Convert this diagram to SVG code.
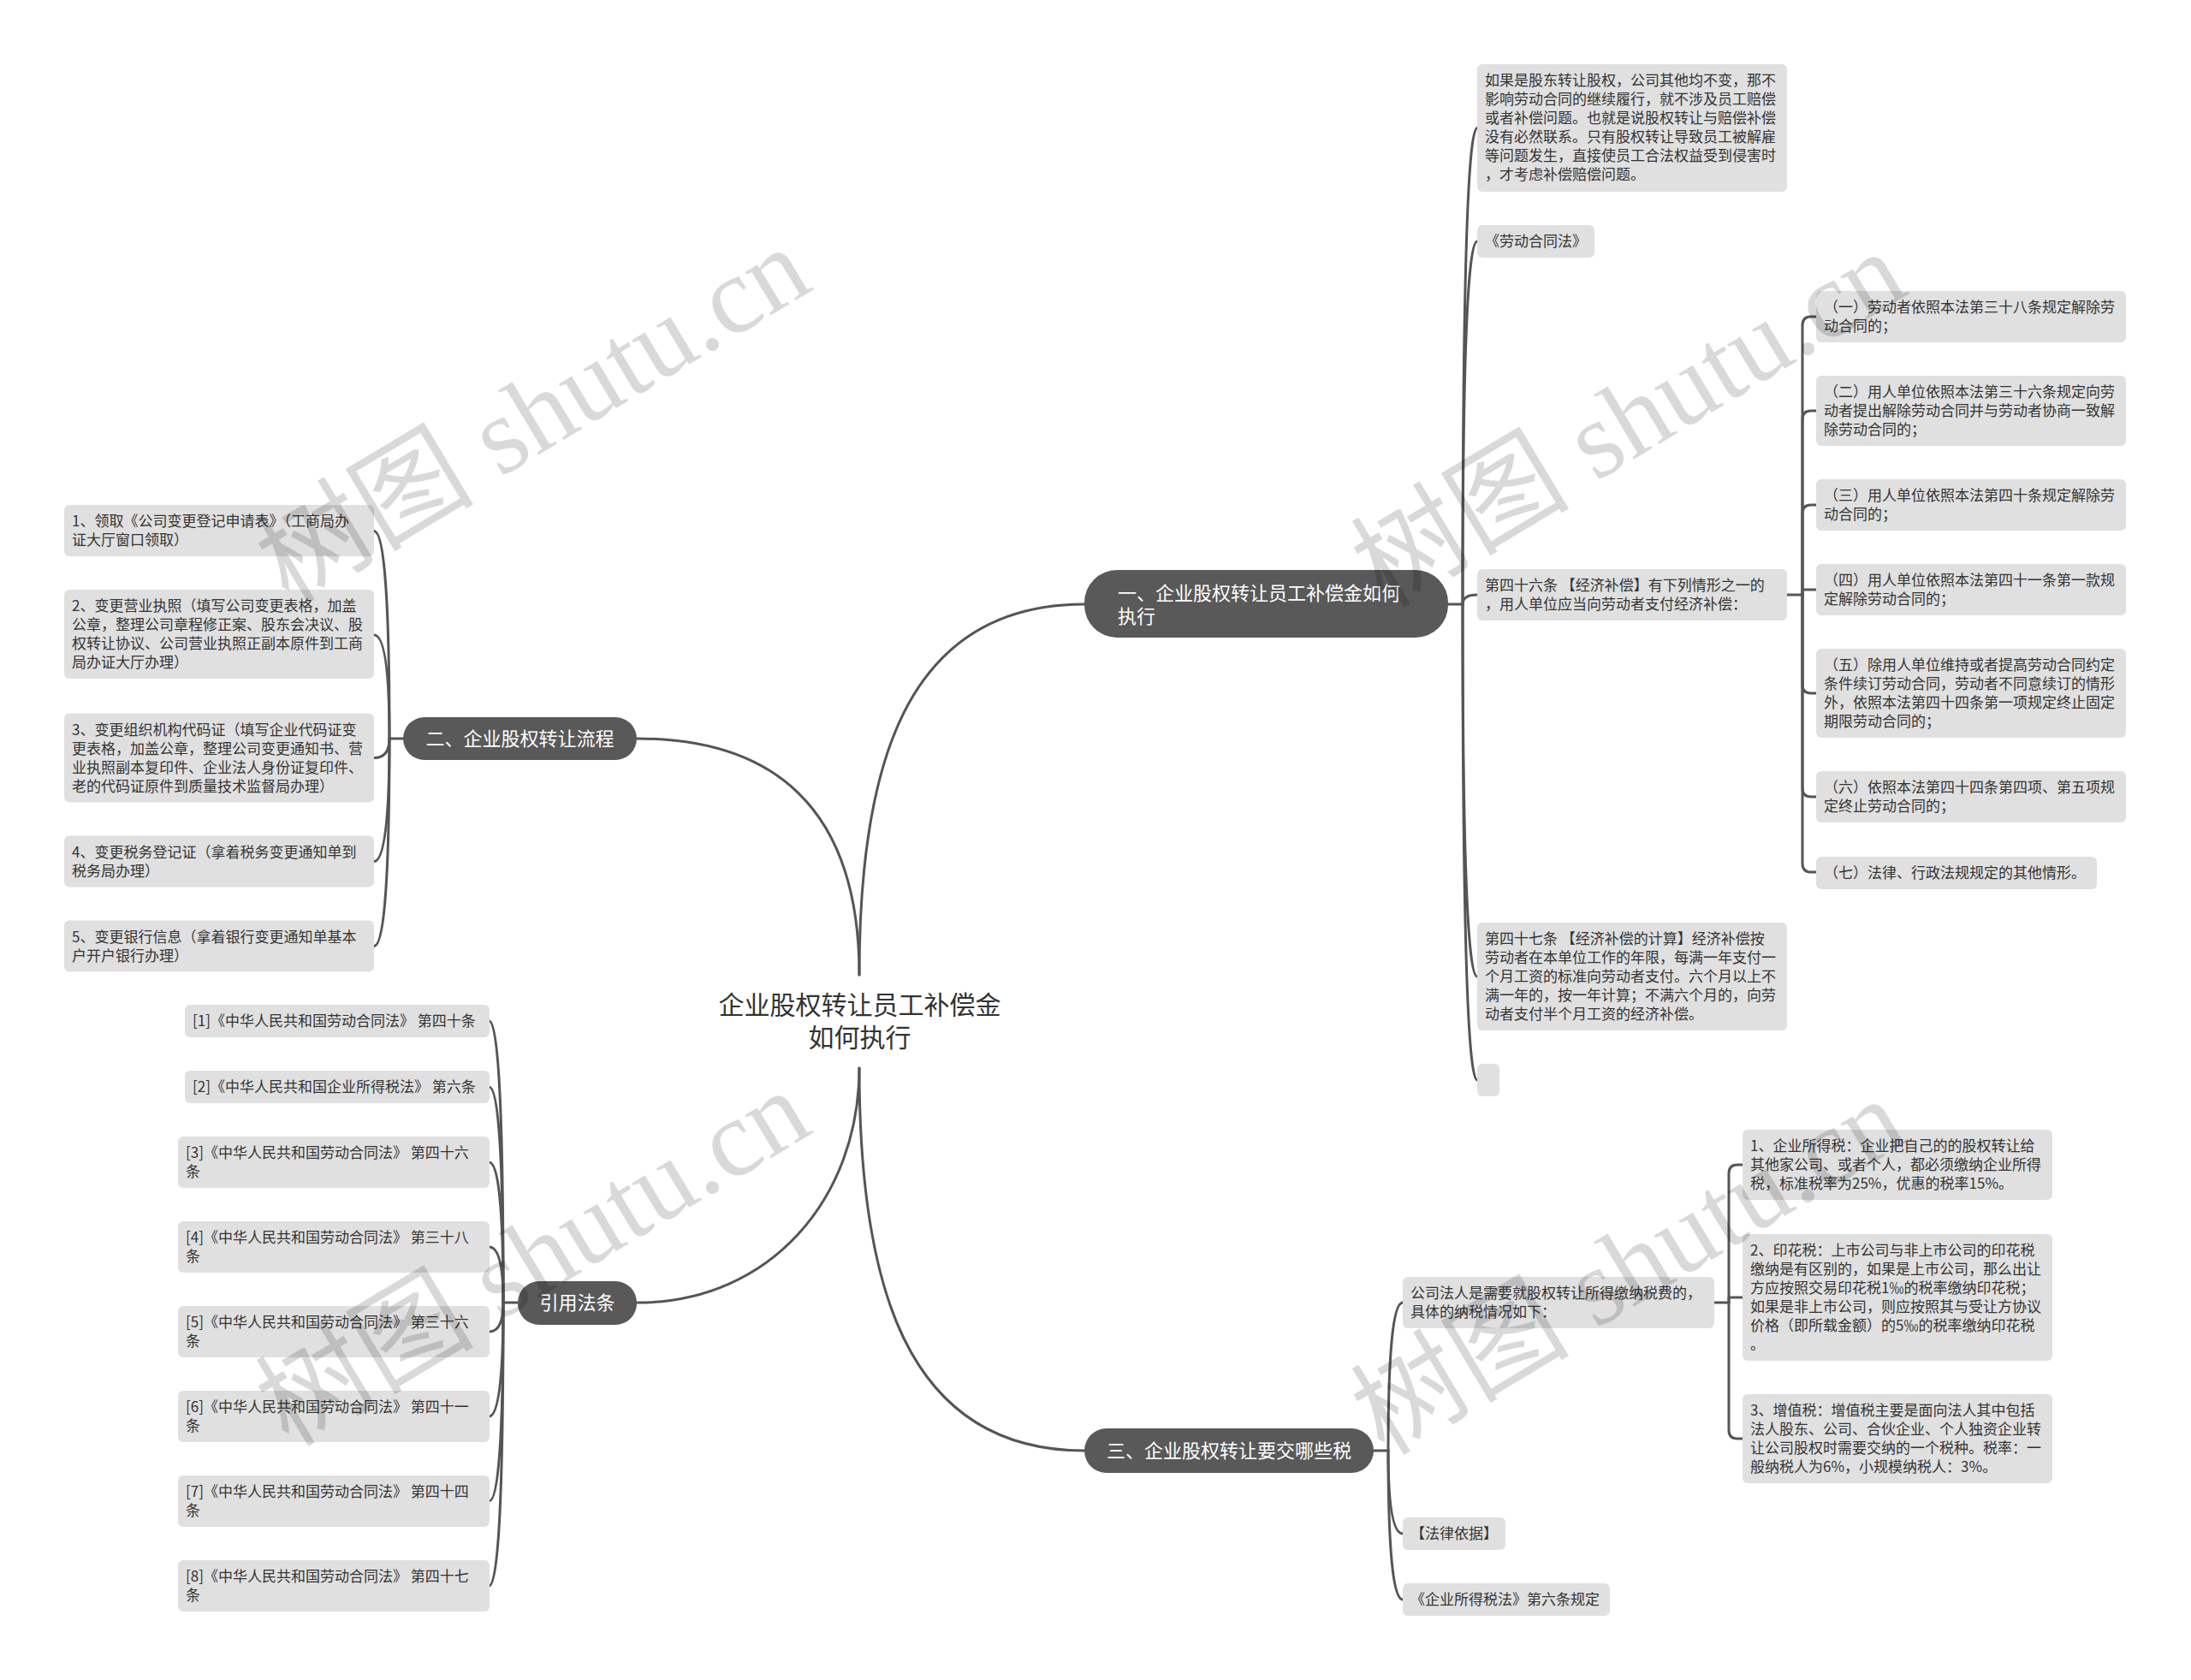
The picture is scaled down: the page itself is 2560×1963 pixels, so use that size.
<svg xmlns="http://www.w3.org/2000/svg" width="2560" height="1963" viewBox="0 0 2560 1963">
<style>
.bg{fill:#ffffff}
.box{fill:#e0e0e0}
.dark{fill:#595959}
.t{font-family:"Noto Sans CJK SC","Noto Sans",sans-serif;font-size:17px;fill:#333333}
.tw{font-family:"Noto Sans CJK SC","Noto Sans",sans-serif;font-size:22px;fill:#ffffff}
.tc{font-family:"Noto Sans CJK SC","Noto Sans",sans-serif;font-size:30px;fill:#333333;text-anchor:middle}
.ln{fill:none;stroke:#555555;stroke-width:3;stroke-linecap:round;stroke-linejoin:round}
.wm{font-family:"Liberation Serif","Noto Sans CJK SC",serif;font-size:128px;fill:#000000;fill-opacity:0.15}
</style>
<rect class="bg" x="0" y="0" width="2560" height="1963"/>

<g id="connectors">
  <path class="ln" d="M1004 1139 C1004 900 1055 706 1267 706"/>
  <path class="ln" d="M1004 1139 C1004 940 900 863 744 863"/>
  <path class="ln" d="M1004 1248 C1004 1400 900 1522 745 1522"/>
  <path class="ln" d="M1004 1248 C1004 1494 1055 1695 1267 1695"/>
  <path class="ln" d="M1692 706 H1709"/>
  <path class="ln" d="M1709 706 Q1709 149.5 1726 149.5"/>
  <path class="ln" d="M1709 706 Q1709 282 1726 282"/>
  <path class="ln" d="M1709 706 Q1709 695 1726 695"/>
  <path class="ln" d="M1709 706 Q1709 1141 1726 1141"/>
  <path class="ln" d="M1709 706 Q1709 1262 1726 1262"/>
  <path class="ln" d="M2088 695 H2106"/>
  <path class="ln" d="M2106 695 V380 Q2106 370 2116 370 H2122"/>
  <path class="ln" d="M2106 695 V490 Q2106 480 2116 480 H2122"/>
  <path class="ln" d="M2106 695 V600 Q2106 590 2116 590 H2122"/>
  <path class="ln" d="M2106 695 V689 H2122"/>
  <path class="ln" d="M2106 695 V800 Q2106 810 2116 810 H2122"/>
  <path class="ln" d="M2106 695 V921 Q2106 931 2116 931 H2122"/>
  <path class="ln" d="M2106 695 V1009 Q2106 1019 2116 1019 H2122"/>
  <path class="ln" d="M471 863 H455"/>
  <path class="ln" d="M455 863 Q455 620.5 437 620.5"/>
  <path class="ln" d="M455 863 Q455 742 437 742"/>
  <path class="ln" d="M455 863 Q455 885.5 437 885.5"/>
  <path class="ln" d="M455 863 Q455 1006.5 437 1006.5"/>
  <path class="ln" d="M455 863 Q455 1105.5 437 1105.5"/>
  <path class="ln" d="M605 1522 H588"/>
  <path class="ln" d="M588 1522 Q588 1193 571.5 1193"/>
  <path class="ln" d="M588 1522 Q588 1270 571.5 1270"/>
  <path class="ln" d="M588 1522 Q588 1358 571.5 1358"/>
  <path class="ln" d="M588 1522 Q588 1457 571.5 1457"/>
  <path class="ln" d="M588 1522 Q588 1556 571.5 1556"/>
  <path class="ln" d="M588 1522 Q588 1655 571.5 1655"/>
  <path class="ln" d="M588 1522 Q588 1754 571.5 1754"/>
  <path class="ln" d="M588 1522 Q588 1853 571.5 1853"/>
  <path class="ln" d="M1605 1695 H1622"/>
  <path class="ln" d="M1622 1695 Q1622 1522 1639 1522"/>
  <path class="ln" d="M1622 1695 Q1622 1792 1639 1792"/>
  <path class="ln" d="M1622 1695 Q1622 1869 1639 1869"/>
  <path class="ln" d="M2003 1522 H2020"/>
  <path class="ln" d="M2020 1522 V1371 Q2020 1361 2030 1361 H2036"/>
  <path class="ln" d="M2020 1522 V1516 H2036"/>
  <path class="ln" d="M2020 1522 V1671 Q2020 1681 2030 1681 H2036"/>
</g>

<g id="root">
  <text class="tc"><tspan x="1004.5" y="1185">企业股权转让员工补偿金</tspan><tspan x="1004.5" y="1223">如何执行</tspan></text>
</g>

<g id="n1">
  <rect class="dark" x="1267" y="666" width="425" height="79" rx="38"/>
  <text class="tw"><tspan x="1306" y="701">一、企业股权转让员工补偿金如何</tspan><tspan x="1306" y="728">执行</tspan></text>
</g>
<g id="n2">
  <rect class="dark" x="471" y="838" width="273" height="50" rx="25"/>
  <text class="tw" x="607.5" y="871" text-anchor="middle">二、企业股权转让流程</text>
</g>
<g id="n3">
  <rect class="dark" x="1267" y="1669" width="338" height="52" rx="26"/>
  <text class="tw" x="1436" y="1703" text-anchor="middle">三、企业股权转让要交哪些税</text>
</g>
<g id="n4">
  <rect class="dark" x="605" y="1497" width="139" height="51" rx="25"/>
  <text class="tw" x="674.5" y="1530" text-anchor="middle">引用法条</text>
</g>

<g id="n1a">
  <rect class="box" x="1726" y="75" width="362" height="149" rx="6"/>
  <text class="t"><tspan x="1735" y="100">如果是股东转让股权，公司其他均不变，那不</tspan><tspan x="1735" y="122">影响劳动合同的继续履行，就不涉及员工赔偿</tspan><tspan x="1735" y="144">或者补偿问题。也就是说股权转让与赔偿补偿</tspan><tspan x="1735" y="166">没有必然联系。只有股权转让导致员工被解雇</tspan><tspan x="1735" y="188">等问题发生，直接使员工合法权益受到侵害时</tspan><tspan x="1735" y="210">，才考虑补偿赔偿问题。</tspan></text>
</g>
<g id="n1b">
  <rect class="box" x="1726" y="263" width="137" height="38" rx="6"/>
  <text class="t" x="1735" y="288">《劳动合同法》</text>
</g>
<g id="n1c">
  <rect class="box" x="1726" y="665" width="362" height="60" rx="6"/>
  <text class="t"><tspan x="1735" y="690">第四十六条 【经济补偿】有下列情形之一的</tspan><tspan x="1735" y="712">，用人单位应当向劳动者支付经济补偿：</tspan></text>
</g>
<g id="n1d">
  <rect class="box" x="1726" y="1078" width="362" height="126" rx="6"/>
  <text class="t"><tspan x="1735" y="1103">第四十七条 【经济补偿的计算】经济补偿按</tspan><tspan x="1735" y="1125">劳动者在本单位工作的年限，每满一年支付一</tspan><tspan x="1735" y="1147">个月工资的标准向劳动者支付。六个月以上不</tspan><tspan x="1735" y="1169">满一年的，按一年计算；不满六个月的，向劳</tspan><tspan x="1735" y="1191">动者支付半个月工资的经济补偿。</tspan></text>
</g>
<g id="n1e">
  <rect class="box" x="1726" y="1243" width="26" height="38" rx="6"/>
</g>

<g id="c1">
  <rect class="box" x="2122" y="340" width="362" height="60" rx="6"/>
  <text class="t"><tspan x="2131" y="365">（一）劳动者依照本法第三十八条规定解除劳</tspan><tspan x="2131" y="387">动合同的；</tspan></text>
</g>
<g id="c2">
  <rect class="box" x="2122" y="439" width="362" height="82" rx="6"/>
  <text class="t"><tspan x="2131" y="464">（二）用人单位依照本法第三十六条规定向劳</tspan><tspan x="2131" y="486">动者提出解除劳动合同并与劳动者协商一致解</tspan><tspan x="2131" y="508">除劳动合同的；</tspan></text>
</g>
<g id="c3">
  <rect class="box" x="2122" y="560" width="362" height="60" rx="6"/>
  <text class="t"><tspan x="2131" y="585">（三）用人单位依照本法第四十条规定解除劳</tspan><tspan x="2131" y="607">动合同的；</tspan></text>
</g>
<g id="c4">
  <rect class="box" x="2122" y="659" width="362" height="60" rx="6"/>
  <text class="t"><tspan x="2131" y="684">（四）用人单位依照本法第四十一条第一款规</tspan><tspan x="2131" y="706">定解除劳动合同的；</tspan></text>
</g>
<g id="c5">
  <rect class="box" x="2122" y="758" width="362" height="104" rx="6"/>
  <text class="t"><tspan x="2131" y="783">（五）除用人单位维持或者提高劳动合同约定</tspan><tspan x="2131" y="805">条件续订劳动合同，劳动者不同意续订的情形</tspan><tspan x="2131" y="827">外，依照本法第四十四条第一项规定终止固定</tspan><tspan x="2131" y="849">期限劳动合同的；</tspan></text>
</g>
<g id="c6">
  <rect class="box" x="2122" y="901" width="362" height="60" rx="6"/>
  <text class="t"><tspan x="2131" y="926">（六）依照本法第四十四条第四项、第五项规</tspan><tspan x="2131" y="948">定终止劳动合同的；</tspan></text>
</g>
<g id="c7">
  <rect class="box" x="2122" y="1001" width="328" height="38" rx="6"/>
  <text class="t" x="2131" y="1026">（七）法律、行政法规规定的其他情形。</text>
</g>

<g id="p1">
  <rect class="box" x="75" y="590" width="362" height="60" rx="6"/>
  <text class="t"><tspan x="84" y="615">1、领取《公司变更登记申请表》（工商局办</tspan><tspan x="84" y="637">证大厅窗口领取）</tspan></text>
</g>
<g id="p2">
  <rect class="box" x="75" y="689" width="362" height="104" rx="6"/>
  <text class="t"><tspan x="84" y="714">2、变更营业执照（填写公司变更表格，加盖</tspan><tspan x="84" y="736">公章，整理公司章程修正案、股东会决议、股</tspan><tspan x="84" y="758">权转让协议、公司营业执照正副本原件到工商</tspan><tspan x="84" y="780">局办证大厅办理）</tspan></text>
</g>
<g id="p3">
  <rect class="box" x="75" y="833.5" width="362" height="104" rx="6"/>
  <text class="t"><tspan x="84" y="858.5">3、变更组织机构代码证（填写企业代码证变</tspan><tspan x="84" y="880.5">更表格，加盖公章，整理公司变更通知书、营</tspan><tspan x="84" y="902.5">业执照副本复印件、企业法人身份证复印件、</tspan><tspan x="84" y="924.5">老的代码证原件到质量技术监督局办理）</tspan></text>
</g>
<g id="p4">
  <rect class="box" x="75" y="976.5" width="362" height="60" rx="6"/>
  <text class="t"><tspan x="84" y="1001.5">4、变更税务登记证（拿着税务变更通知单到</tspan><tspan x="84" y="1023.5">税务局办理）</tspan></text>
</g>
<g id="p5">
  <rect class="box" x="75" y="1075.5" width="362" height="60" rx="6"/>
  <text class="t"><tspan x="84" y="1100.5">5、变更银行信息（拿着银行变更通知单基本</tspan><tspan x="84" y="1122.5">户开户银行办理）</tspan></text>
</g>

<g id="r1">
  <rect class="box" x="216" y="1174" width="356" height="38" rx="6"/>
  <text class="t" x="225" y="1199">[1]《中华人民共和国劳动合同法》 第四十条</text>
</g>
<g id="r2">
  <rect class="box" x="216" y="1251" width="356" height="38" rx="6"/>
  <text class="t" x="225" y="1276">[2]《中华人民共和国企业所得税法》 第六条</text>
</g>
<g id="r3">
  <rect class="box" x="208" y="1328" width="364" height="60" rx="6"/>
  <text class="t"><tspan x="217" y="1353">[3]《中华人民共和国劳动合同法》 第四十六</tspan><tspan x="217" y="1375">条</tspan></text>
</g>
<g id="r4">
  <rect class="box" x="208" y="1427" width="364" height="60" rx="6"/>
  <text class="t"><tspan x="217" y="1452">[4]《中华人民共和国劳动合同法》 第三十八</tspan><tspan x="217" y="1474">条</tspan></text>
</g>
<g id="r5">
  <rect class="box" x="208" y="1526" width="364" height="60" rx="6"/>
  <text class="t"><tspan x="217" y="1551">[5]《中华人民共和国劳动合同法》 第三十六</tspan><tspan x="217" y="1573">条</tspan></text>
</g>
<g id="r6">
  <rect class="box" x="208" y="1625" width="364" height="60" rx="6"/>
  <text class="t"><tspan x="217" y="1650">[6]《中华人民共和国劳动合同法》 第四十一</tspan><tspan x="217" y="1672">条</tspan></text>
</g>
<g id="r7">
  <rect class="box" x="208" y="1724" width="364" height="60" rx="6"/>
  <text class="t"><tspan x="217" y="1749">[7]《中华人民共和国劳动合同法》 第四十四</tspan><tspan x="217" y="1771">条</tspan></text>
</g>
<g id="r8">
  <rect class="box" x="208" y="1823" width="364" height="60" rx="6"/>
  <text class="t"><tspan x="217" y="1848">[8]《中华人民共和国劳动合同法》 第四十七</tspan><tspan x="217" y="1870">条</tspan></text>
</g>

<g id="f">
  <rect class="box" x="1639" y="1492" width="364" height="60" rx="6"/>
  <text class="t"><tspan x="1648" y="1517">公司法人是需要就股权转让所得缴纳税费的，</tspan><tspan x="1648" y="1539">具体的纳税情况如下：</tspan></text>
</g>
<g id="f1">
  <rect class="box" x="2036" y="1320" width="362" height="82" rx="6"/>
  <text class="t"><tspan x="2045" y="1345">1、企业所得税：企业把自己的的股权转让给</tspan><tspan x="2045" y="1367">其他家公司、或者个人，都必须缴纳企业所得</tspan><tspan x="2045" y="1389">税，标准税率为25%，优惠的税率15%。</tspan></text>
</g>
<g id="f2">
  <rect class="box" x="2036" y="1442" width="362" height="148" rx="6"/>
  <text class="t"><tspan x="2045" y="1467">2、印花税：上市公司与非上市公司的印花税</tspan><tspan x="2045" y="1489">缴纳是有区别的，如果是上市公司，那么出让</tspan><tspan x="2045" y="1511">方应按照交易印花税1‰的税率缴纳印花税；</tspan><tspan x="2045" y="1533">如果是非上市公司，则应按照其与受让方协议</tspan><tspan x="2045" y="1555">价格（即所载金额）的5‰的税率缴纳印花税</tspan><tspan x="2045" y="1577">。</tspan></text>
</g>
<g id="f3">
  <rect class="box" x="2036" y="1629" width="362" height="104" rx="6"/>
  <text class="t"><tspan x="2045" y="1654">3、增值税：增值税主要是面向法人其中包括</tspan><tspan x="2045" y="1676">法人股东、公司、合伙企业、个人独资企业转</tspan><tspan x="2045" y="1698">让公司股权时需要交纳的一个税种。税率：一</tspan><tspan x="2045" y="1720">般纳税人为6%，小规模纳税人：3%。</tspan></text>
</g>
<g id="g1">
  <rect class="box" x="1639" y="1773" width="120" height="38" rx="6"/>
  <text class="t" x="1648" y="1798">【法律依据】</text>
</g>
<g id="g2">
  <rect class="box" x="1639" y="1850" width="242" height="38" rx="6"/>
  <text class="t" x="1648" y="1875">《企业所得税法》第六条规定</text>
</g>

<g id="watermarks">
  <text class="wm" text-anchor="middle" transform="translate(645 522) rotate(-31)">树图 shutu.cn</text>
  <text class="wm" text-anchor="middle" transform="translate(1925 527) rotate(-31)">树图 shutu.cn</text>
  <text class="wm" text-anchor="middle" transform="translate(645 1507) rotate(-31)">树图 shutu.cn</text>
  <text class="wm" text-anchor="middle" transform="translate(1925 1517) rotate(-31)">树图 shutu.cn</text>
</g>
</svg>
